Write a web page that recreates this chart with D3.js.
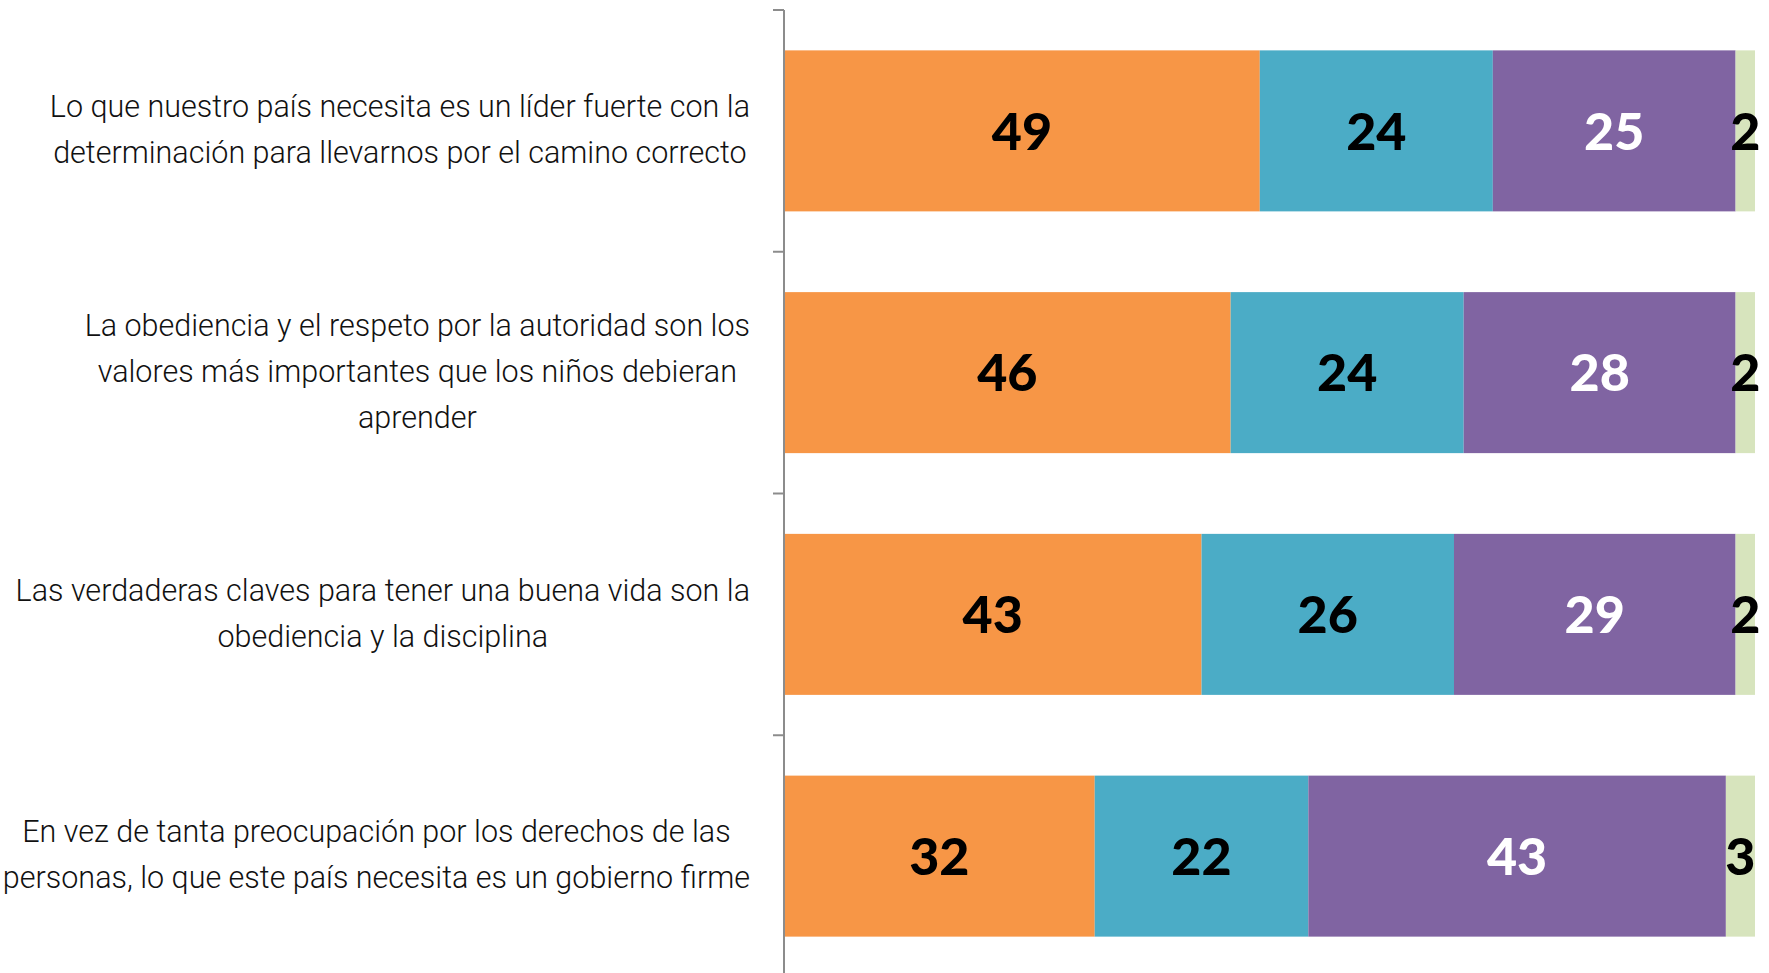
<!DOCTYPE html>
<html>
<head>
<meta charset="utf-8">
<script src="https://cdn.jsdelivr.net/npm/d3@7"></script>
<style>
  html, body { margin: 0; padding: 0; background: #fff; }
  svg { display: block; }
</style>
</head>
<body>
<svg id="chart" width="1769" height="973"></svg>
<script>
// Statements (each wrapped onto the lines shown)
const categories = [
  ["Lo que nuestro país necesita es un líder fuerte con la",
   "determinación para llevarnos por el camino correcto"],
  ["La obediencia y el respeto por la autoridad son los",
   "valores más importantes que los niños debieran",
   "aprender"],
  ["Las verdaderas claves para tener una buena vida son la",
   "obediencia y la disciplina"],
  ["En vez de tanta preocupación por los derechos de las",
   "personas, lo que este país necesita es un gobierno firme"]
];

// Response shares (%) per statement, one array per answer group
const seriesA = [49, 46, 43, 32];
const seriesB = [24, 24, 26, 22];
const seriesC = [25, 28, 29, 43];
const seriesD = [2, 2, 2, 3];

const seriesColors = ["#F79646", "#4BACC6", "#8064A2", "#D7E4BD"];
const labelColors  = ["#000000", "#000000", "#ffffff", "#000000"];

const svg = d3.select("#chart");
const axisX = 784;
const x = d3.scaleLinear().domain([0, 100]).range([axisX, 1755]);
const y = d3.scaleBand().domain(d3.range(categories.length)).range([10, 977]).paddingInner(0.334).paddingOuter(0.167);

const seriesList = [seriesA, seriesB, seriesC, seriesD];
const rows = categories.map((c, i) => {
  let acc = 0;
  return seriesList.map((s, k) => {
    const seg = { row: i, k, v: s[i], x0: acc, x1: acc + s[i] };
    acc += s[i];
    return seg;
  });
});
const segments = rows.flat();

// bars
svg.append("g").selectAll("rect").data(segments).join("rect")
  .attr("x", d => x(d.x0))
  .attr("y", d => y(d.row))
  .attr("width", d => x(d.x1) - x(d.x0))
  .attr("height", y.bandwidth())
  .attr("fill", d => seriesColors[d.k]);

// value labels
svg.append("g").selectAll("text").data(segments).join("text")
  .attr("x", d => (x(d.x0) + x(d.x1)) / 2)
  .attr("y", d => y(d.row) + y.bandwidth() / 2)
  .attr("dy", "0.36em")
  .attr("text-anchor", "middle")
  .attr("font-family", "Lato, 'Open Sans', sans-serif")
  .attr("font-weight", 900)
  .attr("font-size", 52)
  .attr("fill", d => labelColors[d.k])
  .text(d => d.v);

// category axis (line + ticks between bands)
const axisG = svg.append("g").attr("transform", `translate(${axisX},0)`);
const step = y.step();
const tickYs = d3.range(categories.length + 1).map(i => y.range()[0] + i * step);
axisG.append("line")
  .attr("x1", 0).attr("x2", 0)
  .attr("y1", y.range()[0]).attr("y2", 973)
  .attr("stroke", "#8c8c8c").attr("stroke-width", 2);
axisG.selectAll("line.tick").data(tickYs).join("line")
  .attr("class", "tick")
  .attr("x1", -11).attr("x2", 0)
  .attr("y1", d => d).attr("y2", d => d)
  .attr("stroke", "#8c8c8c").attr("stroke-width", 2);

// category labels: lines centred within a block whose right edge sits left of the axis
const labelRight = 750;
const lineGap = 46;
const labelG = svg.append("g");
categories.forEach((lines, i) => {
  const cy = y(i) + y.bandwidth() / 2;
  const g = labelG.append("g");
  const texts = lines.map((ln, j) => g.append("text")
    .attr("y", cy + (j - (lines.length - 1) / 2) * lineGap)
    .attr("dy", "0.3em")
    .attr("text-anchor", "middle")
    .attr("font-family", "Roboto, sans-serif")
    .attr("font-weight", 300)
    .attr("font-size", 30.5)
    .attr("fill", "#111")
    .text(ln));
  const widths = texts.map(t => t.node().getComputedTextLength());
  const maxW = d3.max(widths);
  texts.forEach(t => t.attr("x", labelRight - maxW / 2));
});
</script>
</body>
</html>
